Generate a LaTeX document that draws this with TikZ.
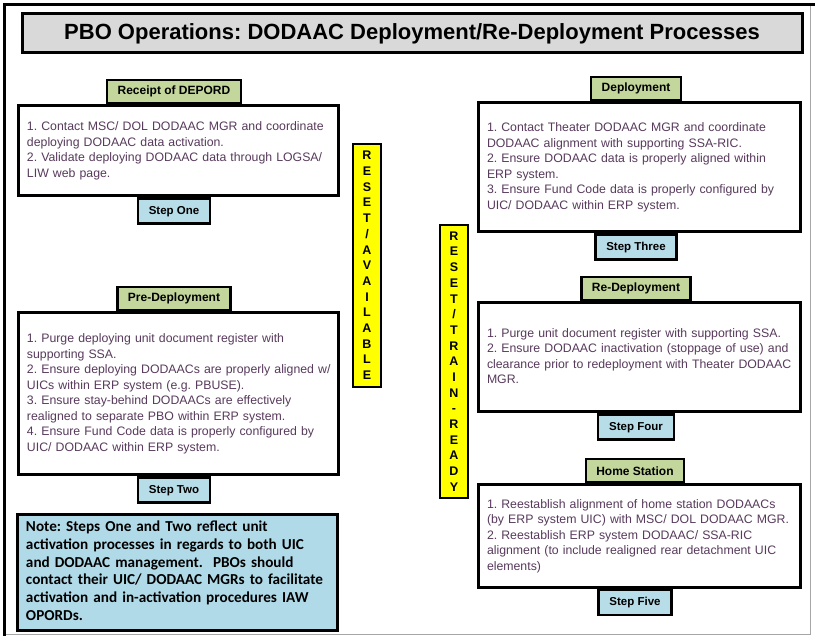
\documentclass[tikz,border=0pt]{standalone}
\usepackage{fontspec}
\setmainfont{Liberation Sans}
\newfontfamily\notefont{Carlito}
\usetikzlibrary{positioning}

\definecolor{titlegray}{RGB}{217,217,217}
\definecolor{phasegreen}{RGB}{195,214,155}
\definecolor{stepblue}{RGB}{183,221,232}
\definecolor{noteblue}{RGB}{176,218,232}
\definecolor{taskpurple}{RGB}{88,58,92}
\definecolor{baryellow}{RGB}{255,255,0}

% lines kept as typed, never re-wrapped
\newcommand{\boxlines}[1]{\begin{tabular}{@{}l@{}}#1\end{tabular}}

\begin{document}
\frenchspacing
\begin{tikzpicture}[x=1pt,y=-1pt,
		every node/.style={draw,line width=2.5pt,inner sep=0pt},
		taskbox/.style={fill=white,line width=3pt,inner xsep=9pt,align=left,
			text=taskpurple,font=\fontsize{12.3}{15.5}\selectfont},
		phasebox/.style={fill=phasegreen,minimum height=23pt,inner xsep=10.5pt,
			font=\bfseries\fontsize{12}{14}\selectfont},
		stepbox/.style={fill=stepblue,minimum height=25pt,inner xsep=11pt,
			font=\bfseries\fontsize{11.5}{14}\selectfont},
		resetbar/.style={fill=baryellow,minimum width=28pt,align=center,text=black,
			font=\bfseries\fontsize{12.5}{15.7}\selectfont}]
	\useasboundingbox (0,0) rectangle (815,636);

	% outer frame
	\draw[black!35,line width=1pt] (4.5,4.5) rectangle (810,634);
	\draw[line width=3pt] (4.5,636) |- (815,4.5);

	\node[fill=titlegray,line width=3pt,minimum width=780pt,minimum height=39pt,
		font=\bfseries\fontsize{22}{26}\selectfont] (title) at (412,33.5)
		{PBO Operations: DODAAC Deployment/Re-Deployment Processes};

	% left column
	\node[taskbox,minimum width=320pt,minimum height=90pt,text width=302pt] (receipt) at (178,151)
		{\boxlines{1. Contact MSC/ DOL DODAAC MGR and coordinate\\
		deploying DODAAC data activation.\\
		2. Validate deploying DODAAC data through LOGSA/\\
		LIW web page.}};
	\node[phasebox,anchor=south] (receiptlbl) at ([xshift=-4pt]receipt.north) {Receipt of DEPORD};
	\node[stepbox,anchor=north] (stepone) at ([xshift=-4pt]receipt.south) {Step One};

	\node[taskbox,minimum width=320pt,minimum height=162pt,text width=302pt] (predep) at (178,394)
		{\boxlines{1. Purge deploying unit document register with\\
		supporting SSA.\\
		2. Ensure deploying DODAACs are properly aligned w/\\
		UICs within ERP system (e.g. PBUSE).\\
		3. Ensure stay-behind DODAACs are effectively\\
		realigned to separate PBO within ERP system.\\
		4. Ensure Fund Code data is properly configured by\\
		UIC/ DODAAC within ERP system.}};
	\node[phasebox,anchor=south] (predeplbl) at ([xshift=-4pt]predep.north) {Pre-Deployment};
	\node[stepbox,anchor=north] (steptwo) at ([xshift=-4pt]predep.south) {Step Two};

	\node[fill=noteblue,line width=3pt,minimum width=320pt,minimum height=115pt,
		inner xsep=9pt,text width=302pt,align=left,
		font=\notefont\bfseries\fontsize{15.2}{17.8}\selectfont] (note) at (177,572.5)
		{\boxlines{Note: Steps One and Two reflect unit\\
		activation processes in regards to both UIC\\
		and DODAAC management.~ PBOs should\\
		contact their UIC/ DODAAC MGRs to facilitate\\
		activation and in-activation procedures IAW\\
		OPORDs.}};

	% reset bars
	\node[resetbar,minimum height=243pt] (available) at (367,265.5)
		{R\\E\\S\\E\\T\\/\\A\\V\\A\\I\\L\\A\\B\\L\\E};
	\node[resetbar,minimum height=273pt] (trainready) at (454,361.5)
		{R\\E\\S\\E\\T\\/\\T\\R\\A\\I\\N\\-\\R\\E\\A\\D\\Y};

	% right column
	\node[taskbox,minimum width=322pt,minimum height=129pt,text width=304pt] (deploy) at (639,167.5)
		{\boxlines{1. Contact Theater DODAAC MGR and coordinate\\
		DODAAC alignment with supporting SSA-RIC.\\
		2. Ensure DODAAC data is properly aligned within\\
		ERP system.\\
		3. Ensure Fund Code data is properly configured by\\
		UIC/ DODAAC within ERP system.}};
	\node[phasebox,anchor=south] (deploylbl) at ([xshift=-3pt]deploy.north) {Deployment};
	\node[stepbox,anchor=north] (stepthree) at ([xshift=-3pt]deploy.south) {Step Three};

	\node[taskbox,minimum width=322pt,minimum height=109pt,text width=304pt] (redeploy) at (639,357.5)
		{\boxlines{1. Purge unit document register with supporting SSA.\\
		2. Ensure DODAAC inactivation (stoppage of use) and\\
		clearance prior to redeployment with Theater DODAAC\\
		MGR.}};
	\node[phasebox,anchor=south] (redeploylbl) at ([xshift=-3pt]redeploy.north) {Re-Deployment};
	\node[stepbox,anchor=north] (stepfour) at ([xshift=-3pt]redeploy.south) {Step Four};

	\node[taskbox,minimum width=322pt,minimum height=102pt,text width=304pt] (home) at (639,536)
		{\boxlines{1. Reestablish alignment of home station DODAACs\\
		(by ERP system UIC) with MSC/ DOL DODAAC MGR.\\
		2. Reestablish ERP system DODAAC/ SSA-RIC\\
		alignment (to include realigned rear detachment UIC\\
		elements)}};
	\node[phasebox,anchor=south] (homelbl) at ([xshift=-4pt]home.north) {Home Station};
	\node[stepbox,anchor=north] (stepfive) at ([xshift=-4pt]home.south) {Step Five};
\end{tikzpicture}
\end{document}
